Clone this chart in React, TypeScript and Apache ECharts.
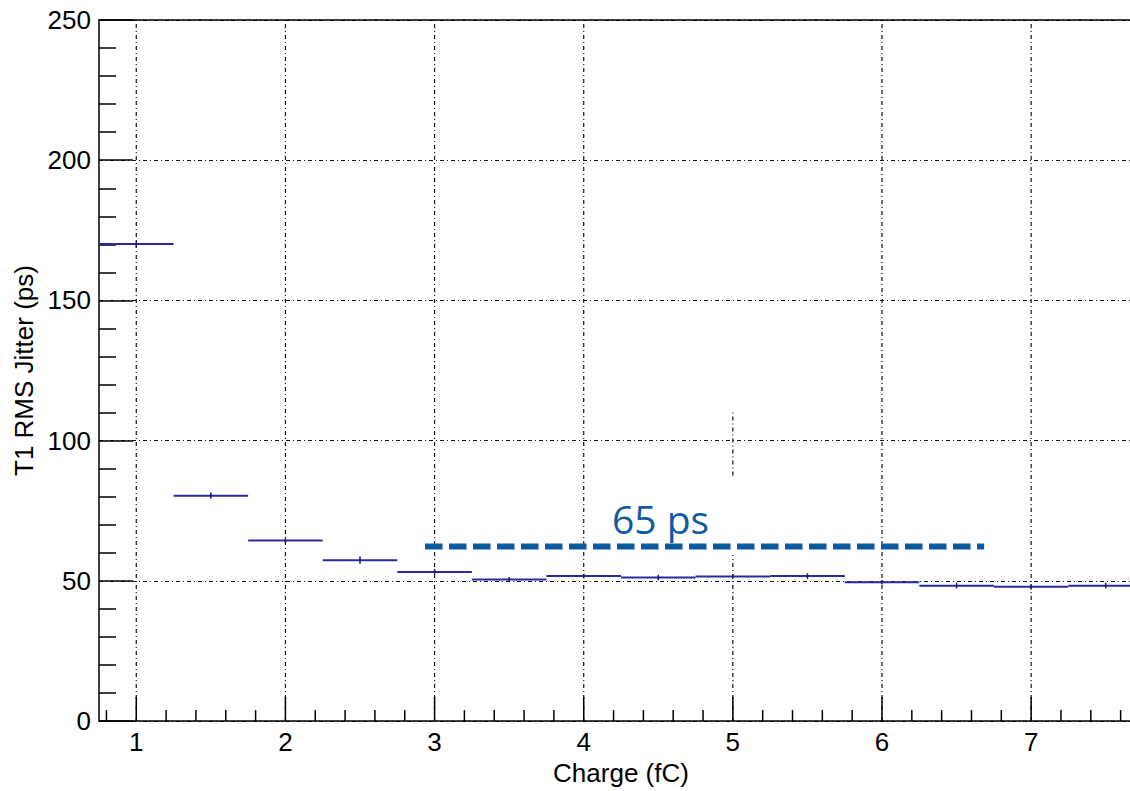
import React, { useEffect, useRef } from "react";
import * as echarts from "echarts";

// ---- data ----
const binCenters = [1, 1.5, 2, 2.5, 3, 3.5, 4, 4.5, 5, 5.5, 6, 6.5, 7, 7.5];
const jitterValues = [170.1, 80.4, 64.4, 57.4, 53.2, 50.5, 51.7, 51.2, 51.6, 51.7, 49.5, 48.3, 47.9, 48.3];
const jitterErrors = [1.2, 1.1, 0.8, 1.3, 1.0, 0.9, 0.8, 1.0, 0.8, 1.0, 0.8, 1.0, 1.0, 1.0];
const binWidth = 0.5;

const xMajorTicks = [1, 2, 3, 4, 5, 6, 7];
const xMinorTicks = [
  0.8, 1.2, 1.4, 1.6, 1.8, 2.2, 2.4, 2.6, 2.8, 3.2, 3.4, 3.6, 3.8, 4.2, 4.4, 4.6, 4.8,
  5.2, 5.4, 5.6, 5.8, 6.2, 6.4, 6.6, 6.8, 7.2, 7.4, 7.6,
];
const xRange = [0.75, 7.75];
const yRange = [0, 250];
const yInterval = 50;
// visible pieces of the x = 5 grid line (the rest is hidden behind boxes in the source)
const x5GridSegments = [
  [0, 59.2],
  [87.6, 110],
];

const annotationX = [2.936, 6.685];
const annotationValue = 62.3;
const annotationText = "65 ps";

const xTitle = "Charge (fC)";
const yTitle = "T1 RMS Jitter (ps)";

const FONT = "'Liberation Sans', Arial, sans-serif";
const GRID_DASH = [4, 3, 1, 3];
const GRID_COLOR = "#111";
const GRID_WIDTH = 1.2;

export default function App() {
  const ref = useRef<HTMLDivElement>(null);

  useEffect(() => {
    document.body.style.margin = "0";
    if (!ref.current) return;
    const chart = echarts.init(ref.current, null, { renderer: "svg" });

    const histData = binCenters.map((c, i) => [c, jitterValues[i], jitterErrors[i]]);

    const option: any = {
      animation: false,
      textStyle: { fontFamily: FONT },
      grid: { left: 99, right: 0, top: 20, bottom: 66, containLabel: false },
      xAxis: [
        {
          type: "value",
          min: xRange[0],
          max: xRange[1],
          minInterval: 1,
          maxInterval: 1,
          name: xTitle,
          nameLocation: "middle",
          nameGap: 36,
          nameTextStyle: { fontSize: 26, color: "#000", fontFamily: FONT },
          axisLine: { show: true, onZero: false, lineStyle: { color: "#000", width: 1.5 } },
          axisTick: { show: false },
          splitLine: { show: false },
          axisLabel: {
            customValues: xMajorTicks,
            formatter: (v: number) => (Number.isInteger(v) ? String(v) : ""),
            fontSize: 26,
            color: "#000",
            margin: 8,
            fontFamily: FONT,
          },
        },
        {
          type: "value",
          position: "top",
          min: xRange[0],
          max: xRange[1],
          axisLine: { show: true, onZero: false, lineStyle: { color: "#000", width: 1.5 } },
          axisTick: { show: false },
          axisLabel: { show: false },
          splitLine: { show: false },
        },
      ],
      yAxis: {
        type: "value",
        min: yRange[0],
        max: yRange[1],
        interval: yInterval,
        name: yTitle,
        nameLocation: "middle",
        nameGap: 62,
        nameTextStyle: { fontSize: 26, color: "#000", fontFamily: FONT },
        axisLine: { show: true, lineStyle: { color: "#000", width: 1.5 } },
        axisTick: { show: true, inside: true, length: 34, lineStyle: { color: "#000", width: 1.5 } },
        minorTick: { show: true, splitNumber: 5, length: 17, lineStyle: { color: "#000", width: 1.5 } },
        splitLine: { show: true, lineStyle: { color: GRID_COLOR, width: GRID_WIDTH, type: GRID_DASH } },
        axisLabel: { fontSize: 26, color: "#000", margin: 8, fontFamily: FONT },
      },
      series: [
        {
          type: "custom",
          name: "xgrid",
          silent: true,
          z: 1,
          xAxisIndex: 0,
          yAxisIndex: 0,
          data: xMajorTicks.map((v) => [v, 0]),
          renderItem: (_p: any, api: any) => {
            const v = api.value(0);
            const segs = v === 5 ? x5GridSegments : [[yRange[0], yRange[1]]];
            const children: any[] = segs.map(([a, b]) => {
              const p1 = api.coord([v, a]);
              const p2 = api.coord([v, b]);
              return {
                type: "line",
                shape: { x1: p1[0], y1: p1[1], x2: p2[0], y2: p2[1] },
                style: { stroke: GRID_COLOR, lineWidth: GRID_WIDTH, lineDash: GRID_DASH },
              };
            });
            const p0 = api.coord([v, yRange[0]]);
            children.push({
              type: "line",
              shape: { x1: p0[0], y1: p0[1], x2: p0[0], y2: p0[1] - 24 },
              style: { stroke: "#000", lineWidth: 1.5 },
            });
            return { type: "group", children };
          },
        },
        {
          type: "custom",
          name: "xminor",
          silent: true,
          z: 2,
          data: xMinorTicks.map((v) => [v, 0]),
          renderItem: (_p: any, api: any) => {
            const p0 = api.coord([api.value(0), yRange[0]]);
            return {
              type: "line",
              shape: { x1: p0[0], y1: p0[1], x2: p0[0], y2: p0[1] - 11 },
              style: { stroke: "#000", lineWidth: 1.5 },
            };
          },
        },
        {
          type: "custom",
          name: "T1 jitter",
          silent: true,
          z: 5,
          data: histData,
          renderItem: (_p: any, api: any) => {
            const c = api.value(0);
            const val = api.value(1);
            const err = api.value(2);
            const l = api.coord([c - binWidth / 2, val]);
            const r = api.coord([c + binWidth / 2, val]);
            const lo = api.coord([c, val - err]);
            const hi = api.coord([c, val + err]);
            const style = { stroke: "#2a2aa0", lineWidth: 2 };
            return {
              type: "group",
              children: [
                { type: "line", shape: { x1: l[0], y1: l[1], x2: r[0], y2: r[1] }, style },
                { type: "line", shape: { x1: lo[0], y1: lo[1], x2: hi[0], y2: hi[1] }, style: { stroke: "#1a1a70", lineWidth: 1.5 } },
              ],
            };
          },
        },
        {
          type: "line",
          name: "annotation",
          silent: true,
          z: 6,
          symbol: "none",
          data: annotationX.map((x) => [x, annotationValue]),
          lineStyle: { color: "#0d5aa3", width: 6, type: [17.5, 6.5], cap: "butt" },
        },
      ],
      graphic: [
        {
          type: "text",
          left: 612,
          top: 499,
          z: 10,
          style: {
            text: annotationText,
            fill: "#0f5aa3",
            font: "39px 'Open Sans', sans-serif",
          },
        },
      ],
    };

    chart.setOption(option);
    return () => chart.dispose();
  }, []);

  return (
    <div style={{ width: 1130, height: 791, overflow: "hidden", position: "relative", background: "#fff" }}>
      <div ref={ref} style={{ width: 1143, height: 791 }} />
    </div>
  );
}
